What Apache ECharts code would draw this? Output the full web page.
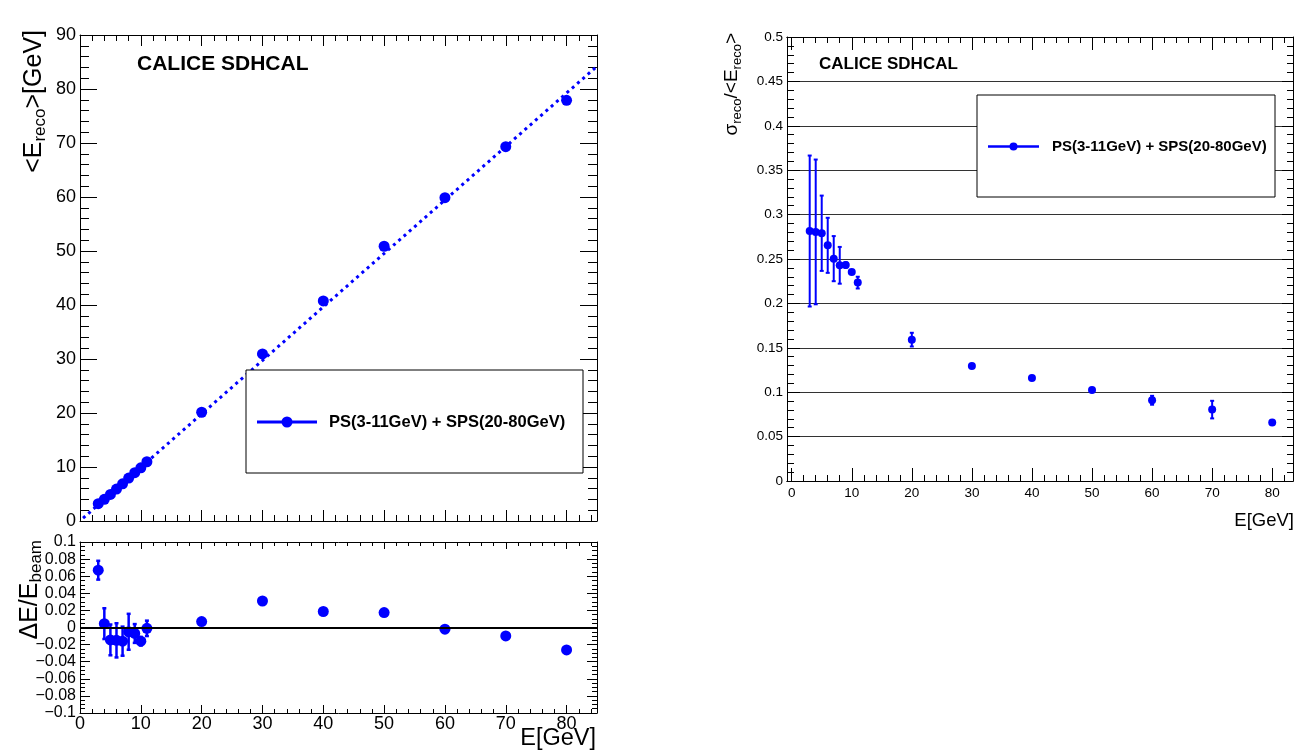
<!DOCTYPE html>
<html>
<head>
<meta charset="utf-8">
<script src="https://cdn.jsdelivr.net/npm/echarts@6/dist/echarts.min.js"></script>
<style>
  html, body { margin: 0; padding: 0; background: #fff; }
  #chart { width: 1312px; height: 751px; }
</style>
</head>
<body>
<div id="chart"></div>
<script>
// beam energies (GeV)
const beamEnergy = [3, 4, 5, 6, 7, 8, 9, 10, 11, 20, 30, 40, 50, 60, 70, 80];
// mean reconstructed energy (GeV)
const recoMean = [3.20, 4.02, 4.93, 5.91, 6.89, 7.96, 8.94, 9.84, 10.97, 20.14, 30.93, 40.75, 50.88, 59.88, 69.31, 77.90];
// relative deviation (E_reco - E_beam) / E_beam
const deviation = [0.067, 0.0045, -0.0145, -0.015, -0.016, -0.005, -0.007, -0.016, -0.001, 0.007, 0.031, 0.0187, 0.0175, -0.002, -0.0098, -0.0262];
const deviationErr = [0.011, 0.018, 0.018, 0.020, 0.017, 0.021, 0.011, 0.005, 0.009, 0.002, 0.002, 0.002, 0.002, 0.002, 0.002, 0.002];
// resolution sigma_reco / <E_reco>
const resolution = [0.2815, 0.2805, 0.279, 0.2654, 0.2504, 0.2429, 0.2432, 0.2354, 0.2234, 0.1592, 0.1295, 0.116, 0.1025, 0.0909, 0.0804, 0.0658];
const resolutionErr = [0.085, 0.0815, 0.0424, 0.031, 0.0254, 0.0207, 0.003, 0.002, 0.0066, 0.0077, 0.002, 0.002, 0.002, 0.005, 0.0099, 0.002];
// linear fit drawn on the top-left panel
const fitX = [0.5, 85];
const fitY = [0.52, 84.2];
// tick positions for the right panel x axis
const resMajorTicks = [0, 10, 20, 30, 40, 50, 60, 70, 80];
const resMinorTicks = [2, 4, 6, 8, 12, 14, 16, 18, 22, 24, 26, 28, 32, 34, 36, 38, 42, 44, 46, 48, 52, 54, 56, 58, 62, 64, 66, 68, 72, 74, 76, 78, 82];

const legendText = 'PS(3-11GeV) + SPS(20-80GeV)';
const FONT = '"Liberation Sans", Arial, Helvetica, sans-serif';
const BLUE = '#0000ff';

const chart = echarts.init(document.getElementById('chart'));

function frameAxis(extra) {
  return Object.assign({
    type: 'value',
    axisLine: { show: true, onZero: false, lineStyle: { color: '#000', width: 1 } },
    axisTick: { show: true, inside: true, lineStyle: { color: '#000', width: 1 } },
    axisLabel: { show: false },
    splitLine: { show: false }
  }, extra);
}

function errorBars(xi, yi, vals, errs, width, cap, extra) {
  return Object.assign({
    type: 'custom',
    xAxisIndex: xi,
    yAxisIndex: yi,
    z: 2,
    silent: true,
    encode: { x: 0, y: [1, 2] },
    data: beamEnergy.map((e, i) => [e, vals[i] - errs[i], vals[i] + errs[i]]),
    renderItem(params, api) {
      const lo = api.coord([api.value(0), api.value(1)]);
      const hi = api.coord([api.value(0), api.value(2)]);
      const st = { stroke: BLUE, lineWidth: width };
      return {
        type: 'group',
        children: [
          { type: 'line', shape: { x1: lo[0], y1: lo[1], x2: hi[0], y2: hi[1] }, style: st },
          { type: 'line', shape: { x1: lo[0] - cap, y1: lo[1], x2: lo[0] + cap, y2: lo[1] }, style: st },
          { type: 'line', shape: { x1: hi[0] - cap, y1: hi[1], x2: hi[0] + cap, y2: hi[1] }, style: st }
        ]
      };
    }
  }, extra);
}

function label(size, extra) {
  return Object.assign({ show: true, color: '#000', fontFamily: FONT, fontSize: size }, extra);
}

function txt(x, y, text, size, opts) {
  opts = opts || {};
  return {
    type: 'text', x: x, y: y, rotation: opts.rotation || 0, z: 100,
    style: {
      text: text, x: 0, y: 0, fill: '#000',
      font: (opts.bold ? 'bold ' : '') + size + 'px ' + FONT,
      align: opts.align || 'left', textAlign: opts.align || 'left',
      verticalAlign: 'middle', textVerticalAlign: 'middle',
      rich: opts.rich
    }
  };
}

function subRich(main, sub) {
  return {
    m: { fontSize: main, fontFamily: FONT, fill: '#000', lineHeight: main + 4, verticalAlign: 'middle' },
    s: { fontSize: sub, fontFamily: FONT, fill: '#000', lineHeight: sub, verticalAlign: 'bottom' }
  };
}

function legendBox(x, y, w, h, lx1, lx2, ly, lw, r, tx, size) {
  return [
    { type: 'rect', z: 90, shape: { x: x, y: y, width: w, height: h }, style: { fill: '#fff', stroke: '#000', lineWidth: 1 } },
    { type: 'line', z: 91, shape: { x1: lx1, y1: ly, x2: lx2, y2: ly }, style: { stroke: BLUE, lineWidth: lw } },
    { type: 'circle', z: 92, shape: { cx: (lx1 + lx2) / 2, cy: ly, r: r }, style: { fill: BLUE } },
    txt(tx, ly, legendText, size, { bold: true })
  ];
}

const devFmt = v => {
  if (Math.abs(v) < 1e-9) return '0';
  const s = String(+Math.abs(v).toFixed(2));
  return v < 0 ? '\u2212' + s : s;
};

const option = {
  backgroundColor: '#fff',
  animation: false,
  grid: [
    { left: 80, top: 35, width: 517, height: 486 },
    { left: 80, top: 542, width: 517, height: 171 },
    { left: 787, top: 37, width: 506, height: 444 }
  ],
  xAxis: [
    frameAxis({ gridIndex: 0, position: 'bottom', min: 0, max: 85, interval: 10,
      axisTick: { show: true, inside: true, length: 11, lineStyle: { color: '#000' } },
      minorTick: { show: true, splitNumber: 5, length: 6, lineStyle: { color: '#000' } } }),
    frameAxis({ gridIndex: 0, position: 'top', min: 0, max: 85, interval: 10,
      axisTick: { show: true, inside: true, length: 11, lineStyle: { color: '#000' } },
      minorTick: { show: true, splitNumber: 5, length: 6, lineStyle: { color: '#000' } } }),
    frameAxis({ gridIndex: 1, position: 'bottom', min: 0, max: 85, interval: 10,
      axisTick: { show: true, inside: true, length: 8, lineStyle: { color: '#000' } },
      minorTick: { show: true, splitNumber: 5, length: 4, lineStyle: { color: '#000' } },
      axisLabel: label(18, { margin: 2, showMaxLabel: false }) }),
    frameAxis({ gridIndex: 1, position: 'top', min: 0, max: 85, interval: 10,
      axisTick: { show: true, inside: true, length: 7, lineStyle: { color: '#000' } },
      minorTick: { show: true, splitNumber: 5, length: 4, lineStyle: { color: '#000' } } }),
    frameAxis({ gridIndex: 2, position: 'bottom', min: -0.78, max: 83.46,
      axisTick: { show: true, inside: true, length: 13, customValues: resMajorTicks, lineStyle: { color: '#000' } },
      axisLabel: label(13.5, { margin: 5, customValues: resMajorTicks }) }),
    frameAxis({ gridIndex: 2, position: 'bottom', min: -0.78, max: 83.46,
      axisTick: { show: true, inside: true, length: 6, customValues: resMinorTicks, lineStyle: { color: '#000' } } }),
    frameAxis({ gridIndex: 2, position: 'top', min: -0.78, max: 83.46,
      axisTick: { show: true, inside: true, length: 13, customValues: resMajorTicks, lineStyle: { color: '#000' } } }),
    frameAxis({ gridIndex: 2, position: 'top', min: -0.78, max: 83.46,
      axisTick: { show: true, inside: true, length: 6, customValues: resMinorTicks, lineStyle: { color: '#000' } } })
  ],
  yAxis: [
    frameAxis({ gridIndex: 0, position: 'left', min: 0, max: 90, interval: 10,
      axisTick: { show: true, inside: true, length: 17, lineStyle: { color: '#000' } },
      minorTick: { show: true, splitNumber: 5, length: 9, lineStyle: { color: '#000' } },
      axisLabel: label(18, { margin: 4 }) }),
    frameAxis({ gridIndex: 0, position: 'right', min: 0, max: 90, interval: 10,
      axisTick: { show: true, inside: true, length: 17, lineStyle: { color: '#000' } },
      minorTick: { show: true, splitNumber: 5, length: 9, lineStyle: { color: '#000' } } }),
    frameAxis({ gridIndex: 1, position: 'left', min: -0.1, max: 0.1, interval: 0.02,
      axisTick: { show: true, inside: true, length: 10, lineStyle: { color: '#000' } },
      minorTick: { show: true, splitNumber: 4, length: 5, lineStyle: { color: '#000' } },
      axisLabel: label(16, { margin: 4, formatter: devFmt }) }),
    frameAxis({ gridIndex: 1, position: 'right', min: -0.1, max: 0.1, interval: 0.02,
      axisTick: { show: true, inside: true, length: 10, lineStyle: { color: '#000' } },
      minorTick: { show: true, splitNumber: 4, length: 5, lineStyle: { color: '#000' } } }),
    frameAxis({ gridIndex: 2, position: 'left', min: 0, max: 0.5, interval: 0.05,
      axisTick: { show: true, inside: true, length: 13, lineStyle: { color: '#000' } },
      minorTick: { show: true, splitNumber: 5, length: 7, lineStyle: { color: '#000' } },
      splitLine: { show: true, lineStyle: { color: '#333', width: 1 } },
      axisLabel: label(13.5, { margin: 4, formatter: v => String(+v.toFixed(2)) }) }),
    frameAxis({ gridIndex: 2, position: 'right', min: 0, max: 0.5, interval: 0.05,
      axisTick: { show: true, inside: true, length: 11, lineStyle: { color: '#000' } },
      minorTick: { show: true, splitNumber: 5, length: 6, lineStyle: { color: '#000' } } })
  ],
  series: [
    {
      type: 'line', xAxisIndex: 0, yAxisIndex: 0, z: 2, silent: true,
      data: fitX.map((x, i) => [x, fitY[i]]),
      showSymbol: false,
      lineStyle: { color: BLUE, width: 3, type: [3, 4] }
    },
    {
      type: 'scatter', xAxisIndex: 0, yAxisIndex: 0, z: 3, silent: true,
      data: beamEnergy.map((e, i) => [e, recoMean[i]]),
      symbolSize: 11, itemStyle: { color: BLUE, opacity: 1 }
    },
    errorBars(2, 2, deviation, deviationErr, 2.5, 2, {
      markLine: {
        silent: true, symbol: 'none', label: { show: false },
        lineStyle: { color: '#000', width: 2, type: 'solid' },
        data: [{ yAxis: 0 }]
      }
    }),
    {
      type: 'scatter', xAxisIndex: 2, yAxisIndex: 2, z: 3, silent: true,
      data: beamEnergy.map((e, i) => [e, deviation[i]]),
      symbolSize: 11, itemStyle: { color: BLUE, opacity: 1 }
    },
    errorBars(4, 4, resolution, resolutionErr, 2, 2),
    {
      type: 'scatter', xAxisIndex: 4, yAxisIndex: 4, z: 3, silent: true,
      data: beamEnergy.map((e, i) => [e, resolution[i]]),
      symbolSize: 8, itemStyle: { color: BLUE, opacity: 1 }
    }
  ],
  graphic: [].concat(
    [
      txt(137, 64, 'CALICE SDHCAL', 21, { bold: true }),
      txt(819, 64.5, 'CALICE SDHCAL', 17, { bold: true }),
      txt(596, 739, 'E[GeV]', 23.5, { align: 'right' }),
      txt(1294, 521, 'E[GeV]', 18.5, { align: 'right' }),
      txt(34, 30, '{m|<E}{s|reco}{m|>[GeV]}', 25, { align: 'right', rotation: Math.PI / 2, rich: subRich(25, 17) }),
      txt(30, 540, '{m|\u0394E/E}{s|beam}', 25, { align: 'right', rotation: Math.PI / 2, rich: subRich(25, 17) }),
      txt(732, 33, '{m|\u03c3}{s|reco}{m|/<E}{s|reco}{m|>}', 19, { align: 'right', rotation: Math.PI / 2, rich: subRich(19, 13) })
    ],
    legendBox(246, 370, 337, 103, 257, 317, 422, 3, 5.5, 329, 16.5),
    legendBox(977, 95, 298, 102, 988, 1039, 146.5, 2.5, 4, 1052, 15)
  )
};

chart.setOption(option);
</script>
</body>
</html>
